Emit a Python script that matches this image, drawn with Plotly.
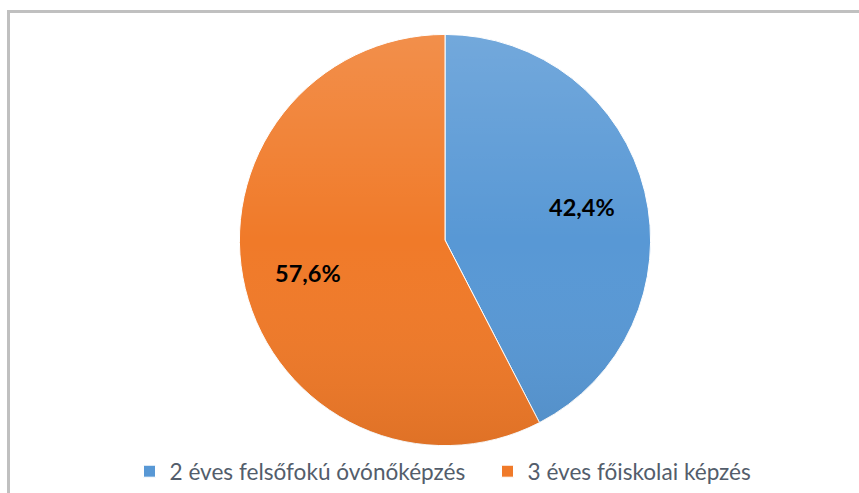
import base64
import math
import plotly.graph_objects as go

labels = ["2 éves felsőfokú óvónőképzés", "3 éves főiskolai képzés"]
values = [42.4, 57.6]
colors = ["#5898d5", "#f07a29"]

W, H = 859, 493
cx, cy, r = 445, 240.5, 206

fig = go.Figure(go.Pie(
    labels=labels,
    values=values,
    sort=False,
    direction="clockwise",
    rotation=0,
    marker=dict(colors=colors, line=dict(color="white", width=1)),
    textinfo="none",
    domain=dict(x=[(cx - r) / W, (cx + r) / W], y=[1 - (cy + r) / H, 1 - (cy - r) / H]),
    hoverinfo="skip",
))

# gradient overlay (light top, darker bottom) like the original Excel chart
svg = (
    '<svg xmlns="http://www.w3.org/2000/svg" viewBox="0 0 100 100">'
    '<defs><linearGradient id="g" x1="0" y1="0" x2="0" y2="1">'
    '<stop offset="0" stop-color="white" stop-opacity="0.16"/>'
    '<stop offset="0.5" stop-color="white" stop-opacity="0"/>'
    '<stop offset="1" stop-color="black" stop-opacity="0.07"/>'
    '</linearGradient></defs>'
    '<circle cx="50" cy="50" r="50" fill="url(#g)"/></svg>'
)
src = "data:image/svg+xml;base64," + base64.b64encode(svg.encode()).decode()

# data labels placed at slice mid-angles
total = sum(values)
annotations = []
cum = 0.0
for v in values:
    mid = (cum + v / 2) / total * 2 * math.pi
    cum += v
    rr = 0.685 * r
    x = cx + rr * math.sin(mid)
    y = cy - rr * math.cos(mid)
    annotations.append(dict(
        x=x / W, y=1 - y / H, xref="paper", yref="paper",
        xanchor="center", yanchor="middle",
        text=f"{v:.1f}%".replace(".", ","), showarrow=False,
        font=dict(family="Lato, Open Sans, sans-serif", size=23.5, color="black", weight="bold"),
    ))

fig.update_layout(
    width=W, height=H,
    margin=dict(l=0, r=0, t=0, b=0),
    paper_bgcolor="white",
    showlegend=True,
    legend=dict(
        orientation="h",
        x=487.5 / W, xanchor="center",
        y=1 - 472 / H, yanchor="middle",
        font=dict(family="Lato, Open Sans, sans-serif", size=22.6, color="#535d6b"),
        entrywidth=313,
        tracegroupgap=0,
    ),
    images=[dict(
        source=src, xref="paper", yref="paper",
        x=(cx - r) / W, y=1 - (cy - r) / H,
        sizex=2 * r / W, sizey=2 * r / H,
        xanchor="left", yanchor="top", sizing="stretch", layer="above",
    )],
    annotations=annotations,
    shapes=[dict(
        type="rect", xref="paper", yref="paper",
        x0=8.5 / W, x1=1.05, y0=-0.05, y1=1 - 11.5 / H,
        line=dict(color="#c0c0c0", width=3),
        fillcolor="rgba(0,0,0,0)",
        layer="below",
    )],
)

fig.write_html("out.html", config={"displayModeBar": False},
               post_script="document.body.style.margin='0';")
